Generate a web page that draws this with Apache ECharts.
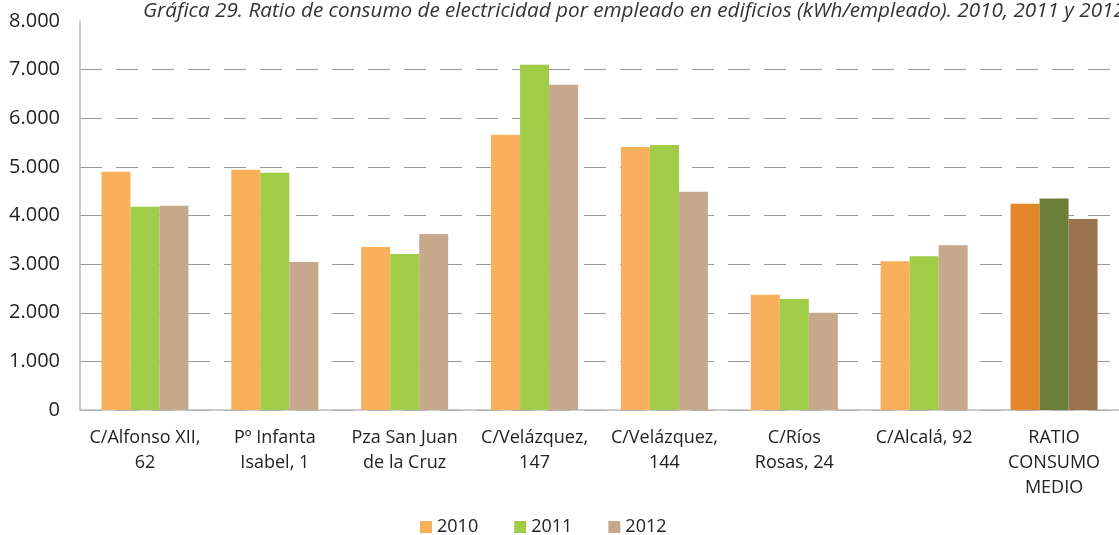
<!DOCTYPE html>
<html>
<head>
<meta charset="utf-8">
<script src="https://cdn.jsdelivr.net/npm/echarts@6/dist/echarts.min.js"></script>
<style>
  html, body { margin: 0; padding: 0; background: #fff; }
  #chart { width: 1119px; height: 535px; }
</style>
</head>
<body>
<div id="chart"></div>
<script>
// datos
var categorias = ['C/Alfonso XII,\n62', 'Pº Infanta\nIsabel, 1', 'Pza San Juan\nde la Cruz', 'C/Velázquez,\n147',
    'C/Velázquez,\n144', 'C/Ríos\nRosas, 24', 'C/Alcalá, 92', 'RATIO\nCONSUMO\nMEDIO'];
var anios = ['2010', '2011', '2012'];
var valores2010 = [4900, 4940, 3350, 5660, 5410, 2370, 3060, 4240];
var valores2011 = [4180, 4880, 3210, 7100, 5450, 2285, 3160, 4350];
var valores2012 = [4200, 3045, 3620, 6690, 4490, 2000, 3390, 3930];
var yTicks = [0, 1000, 2000, 3000, 4000, 5000, 6000, 7000, 8000];

var colores = ['#F9B05A', '#A0CC48', '#C6A88C'];
// la barra del ratio medio va en tonos más oscuros
var coloresMedio = ['#E3882A', '#6B7F3A', '#9A744E'];

var fuente = 'Open Sans';

function serie(nombre, datos, i) {
    return {
        name: nombre,
        type: 'bar',
        barGap: '0%',
        barCategoryGap: '33%',
        itemStyle: { color: colores[i] },
        data: datos.map(function (v, k) {
            if (k === datos.length - 1) {
                return { value: v, itemStyle: { color: coloresMedio[i] } };
            }
            return v;
        })
    };
}

var chart = echarts.init(document.getElementById('chart'));

var option = {
    animation: false,
    title: {
        text: 'Gráfica 29. Ratio de consumo de electricidad por empleado en edificios (kWh/empleado). 2010, 2011 y 2012',
        left: 143,
        top: 1,
        padding: 0,
        textStyle: {
            fontFamily: fuente,
            fontStyle: 'italic',
            fontWeight: 'normal',
            fontSize: 20.7,
            color: '#333'
        }
    },
    legend: {
        data: anios,
        top: 513,
        left: 415,
        itemWidth: 12,
        itemHeight: 12,
        itemGap: 36,
        icon: 'rect',
        textStyle: { fontFamily: fuente, fontSize: 18, color: '#222' }
    },
    grid: {
        left: 80,
        right: -1,
        top: 21,
        bottom: 125
    },
    xAxis: {
        type: 'category',
        data: categorias,
        axisLine: { lineStyle: { color: '#bbb', width: 1.5 } },
        axisTick: { show: false },
        axisLabel: {
            interval: 0,
            margin: 15,
            fontFamily: fuente,
            fontSize: 18,
            lineHeight: 25,
            color: '#222'
        }
    },
    yAxis: {
        type: 'value',
        min: yTicks[0],
        max: yTicks[yTicks.length - 1],
        interval: 1000,
        axisLine: { show: true, lineStyle: { color: '#bbb', width: 1.5 } },
        axisTick: { show: false },
        axisLabel: {
            margin: 20,
            fontFamily: fuente,
            fontSize: 20,
            color: '#222',
            formatter: function (v) {
                return String(v).replace(/\B(?=(\d{3})+(?!\d))/g, '.');
            }
        },
        splitLine: {
            show: true,
            showMaxLine: false,
            lineStyle: { color: '#999', type: [22, 14], width: 1.2 }
        }
    },
    series: [
        serie(anios[0], valores2010, 0),
        serie(anios[1], valores2011, 1),
        serie(anios[2], valores2012, 2)
    ]
};

chart.setOption(option);
</script>
</body>
</html>
